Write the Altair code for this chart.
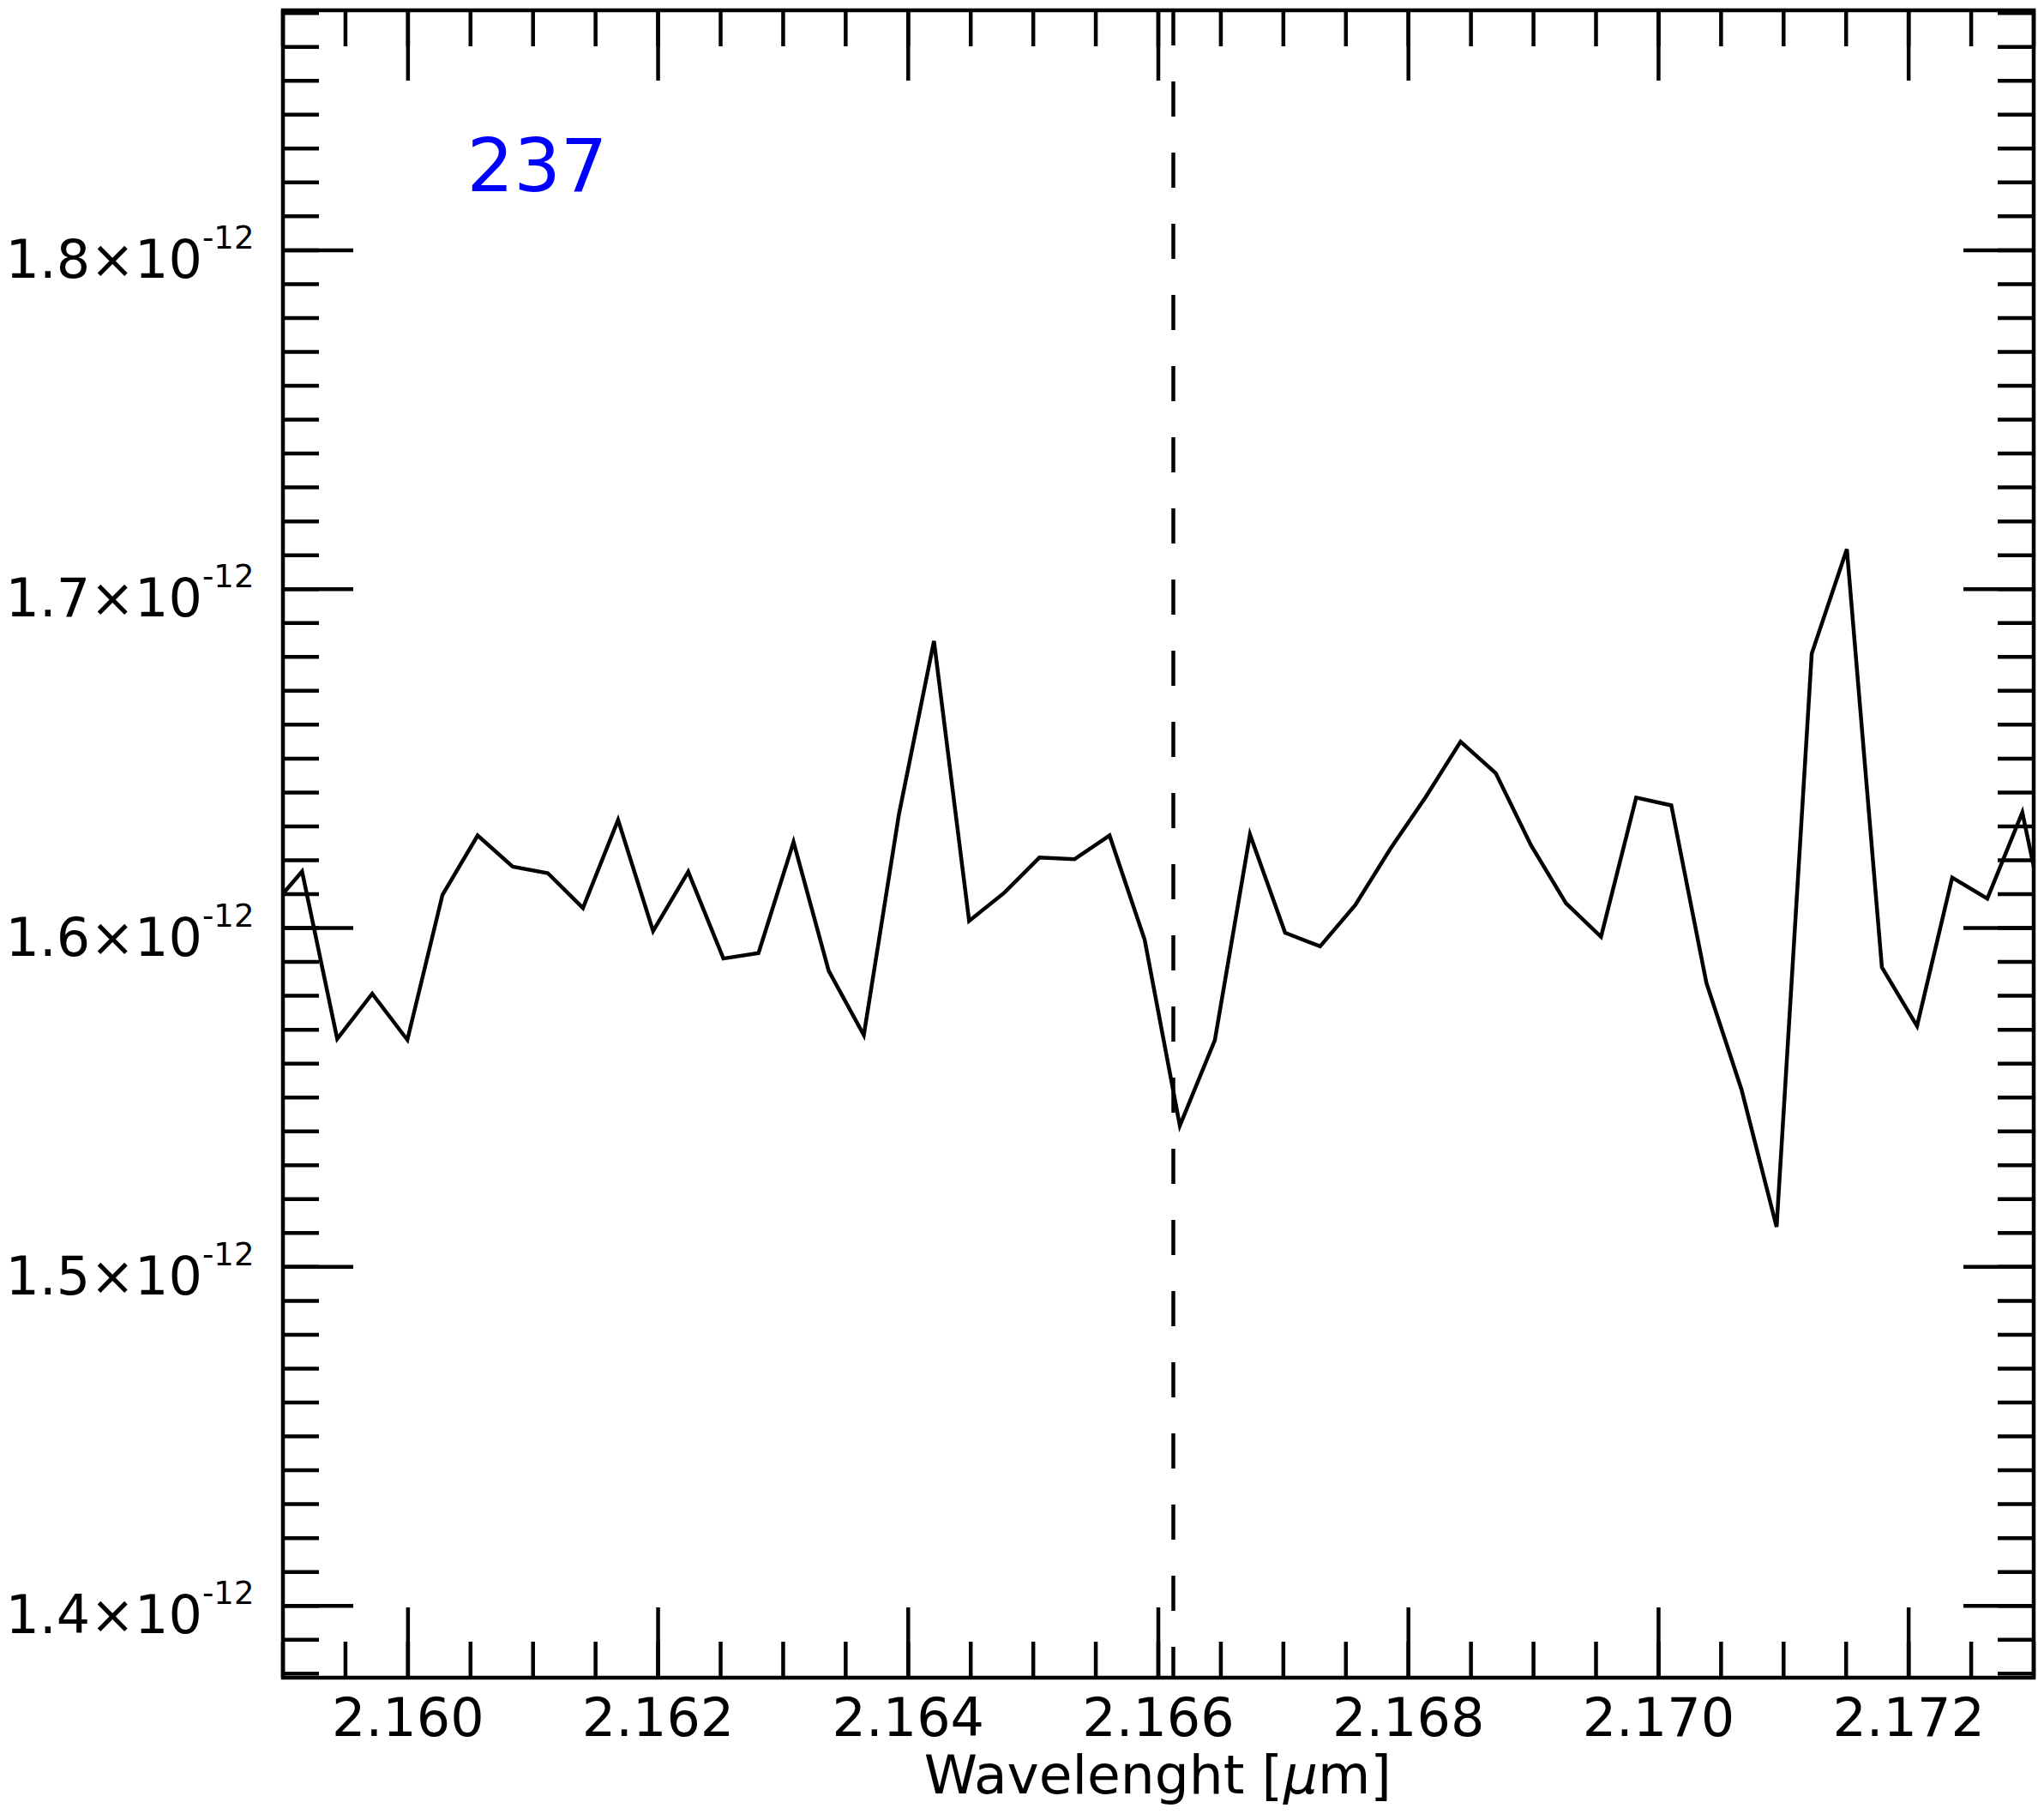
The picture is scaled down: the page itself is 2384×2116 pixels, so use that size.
import altair as alt
import pandas as pd

# ---- data ----
wavelength = [2.158872, 2.159153, 2.159434, 2.159714, 2.159995, 2.160276, 2.160557,
              2.160837, 2.161118, 2.161399, 2.161680, 2.161960, 2.162241, 2.162522,
              2.162803, 2.163083, 2.163364, 2.163645, 2.163926, 2.164206, 2.164487,
              2.164768, 2.165049, 2.165329, 2.165610, 2.165891, 2.166172, 2.166452,
              2.166733, 2.167014, 2.167294, 2.167575, 2.167856, 2.168137, 2.168417,
              2.168698, 2.168979, 2.169260, 2.169540, 2.169821, 2.170102, 2.170383,
              2.170663, 2.170944, 2.171225, 2.171506, 2.171786, 2.172067, 2.172348,
              2.172629, 2.172909, 2.173190]
flux_e12 = [1.6046, 1.6167, 1.5673, 1.5806, 1.5670, 1.6098, 1.6273,
            1.6181, 1.6162, 1.6059, 1.6319, 1.5991, 1.6166, 1.5910,
            1.5926, 1.6254, 1.5874, 1.5684, 1.6336, 1.6847, 1.6021,
            1.6104, 1.6208, 1.6203, 1.6273, 1.5965, 1.5417, 1.5669,
            1.6276, 1.5986, 1.5946, 1.6068, 1.6234, 1.6386, 1.6550,
            1.6457, 1.6245, 1.6073, 1.5974, 1.6385, 1.6362, 1.5838,
            1.5524, 1.5118, 1.6810, 1.7118, 1.5884, 1.5711, 1.6149,
            1.6087, 1.6341, 1.5850]

line_marker = [2.16612]
x_major = [2.160, 2.162, 2.164, 2.166, 2.168, 2.170, 2.172]
x_tick_labels = ["2.160", "2.162", "2.164", "2.166", "2.168", "2.170", "2.172"]
x_minor = [round(2.159 + 0.0005 * i, 4) for i in range(29)]
y_major = [1.4, 1.5, 1.6, 1.7, 1.8]
y_tick_labels = ["1.4×10", "1.5×10", "1.6×10", "1.7×10", "1.8×10"]
y_exponent = ["-12", "-12", "-12", "-12", "-12"]
y_minor = [round(1.38 + 0.01 * i, 2) for i in range(50)]
x_title = ["Wavelenght [", "μ", "m]"]
panel_label = ["237"]
panel_label_pos = [2.16047, 1.8175]

x_domain = [2.159, 2.173]
y_domain = [1.3788, 1.8708]

W, H = 2042, 1945
FONT = "DejaVu Sans"
LW = 4.5

xs = alt.Scale(domain=x_domain, nice=False, zero=False)
ys = alt.Scale(domain=y_domain, nice=False, zero=False)

spec_df = pd.DataFrame({"wl": wavelength, "flux": flux_e12})
spectrum = alt.Chart(spec_df).mark_line(color="black", strokeWidth=LW, clip=True).encode(
    x=alt.X("wl:Q", scale=xs, axis=None),
    y=alt.Y("flux:Q", scale=ys, axis=None),
)

marker = alt.Chart(pd.DataFrame({"x": line_marker})).mark_rule(
    color="black", strokeWidth=LW, strokeDash=[41, 42]
).encode(x=alt.X("x:Q", scale=xs, axis=None), y=alt.value(0), y2=alt.value(H))

xmaj_df = pd.DataFrame({"x": x_major, "lab": x_tick_labels})
xmin_df = pd.DataFrame({"x": x_minor})
ymaj_df = pd.DataFrame({"y": y_major, "lab": y_tick_labels, "exp": y_exponent})
ymin_df = pd.DataFrame({"y": y_minor})


def xticks(df, y0, y1):
    return alt.Chart(df).mark_rule(color="black", strokeWidth=LW).encode(
        x=alt.X("x:Q", scale=xs, axis=None), y=alt.value(y0), y2=alt.value(y1))


def yticks(df, x0, x1):
    return alt.Chart(df).mark_rule(color="black", strokeWidth=LW).encode(
        y=alt.Y("y:Q", scale=ys, axis=None), x=alt.value(x0), x2=alt.value(x1))


ticks = [
    xticks(xmaj_df, H, H - 82), xticks(xmin_df, H, H - 42),
    xticks(xmaj_df, 0, 82), xticks(xmin_df, 0, 42),
    yticks(ymaj_df, 0, 82), yticks(ymin_df, 0, 42),
    yticks(ymaj_df, W, W - 82), yticks(ymin_df, W, W - 42),
]

ylab = alt.Chart(ymaj_df).mark_text(
    align="right", baseline="alphabetic", font=FONT, fontSize=62, dy=32, color="black"
).encode(y=alt.Y("y:Q", scale=ys, axis=None), x=alt.value(-94), text="lab:N")

yexp = alt.Chart(ymaj_df).mark_text(
    align="left", baseline="alphabetic", font=FONT, fontSize=37, dy=-2, color="black"
).encode(y=alt.Y("y:Q", scale=ys, axis=None), x=alt.value(-94), text="exp:N")

xlab = alt.Chart(xmaj_df).mark_text(
    align="center", baseline="alphabetic", font=FONT, fontSize=62, color="black"
).encode(x=alt.X("x:Q", scale=xs, axis=None), y=alt.value(2013), text="lab:N")

TFS = 63
t1 = alt.Chart(pd.DataFrame({"t": [x_title[0]]})).mark_text(
    align="right", baseline="alphabetic", font=FONT, fontSize=TFS, color="black"
).encode(x=alt.value(1166), y=alt.value(2080), text="t:N")
t2 = alt.Chart(pd.DataFrame({"t": [x_title[1]]})).mark_text(
    align="left", baseline="alphabetic", font=FONT, fontSize=TFS, fontStyle="italic", color="black"
).encode(x=alt.value(1167), y=alt.value(2080), text="t:N")
t3 = alt.Chart(pd.DataFrame({"t": [x_title[2]]})).mark_text(
    align="left", baseline="alphabetic", font=FONT, fontSize=TFS, color="black"
).encode(x=alt.value(1207), y=alt.value(2080), text="t:N")

plabel = alt.Chart(pd.DataFrame({"x": [panel_label_pos[0]], "y": [panel_label_pos[1]],
                                 "t": panel_label})).mark_text(
    align="left", baseline="alphabetic", font=FONT, fontSize=86, color="#0000ff"
).encode(x=alt.X("x:Q", scale=xs, axis=None), y=alt.Y("y:Q", scale=ys, axis=None), text="t:N")

chart = alt.layer(spectrum, marker, *ticks, ylab, yexp, xlab, t1, t2, t3, plabel).properties(
    width=W, height=H,
    padding={"left": 322, "top": 4, "right": 4, "bottom": 150},
    autosize=alt.AutoSizeParams(type="none"),
    background="white",
).configure_view(stroke="black", strokeWidth=LW)

chart.save("out.html", embed_options={"renderer": "svg", "actions": False})
